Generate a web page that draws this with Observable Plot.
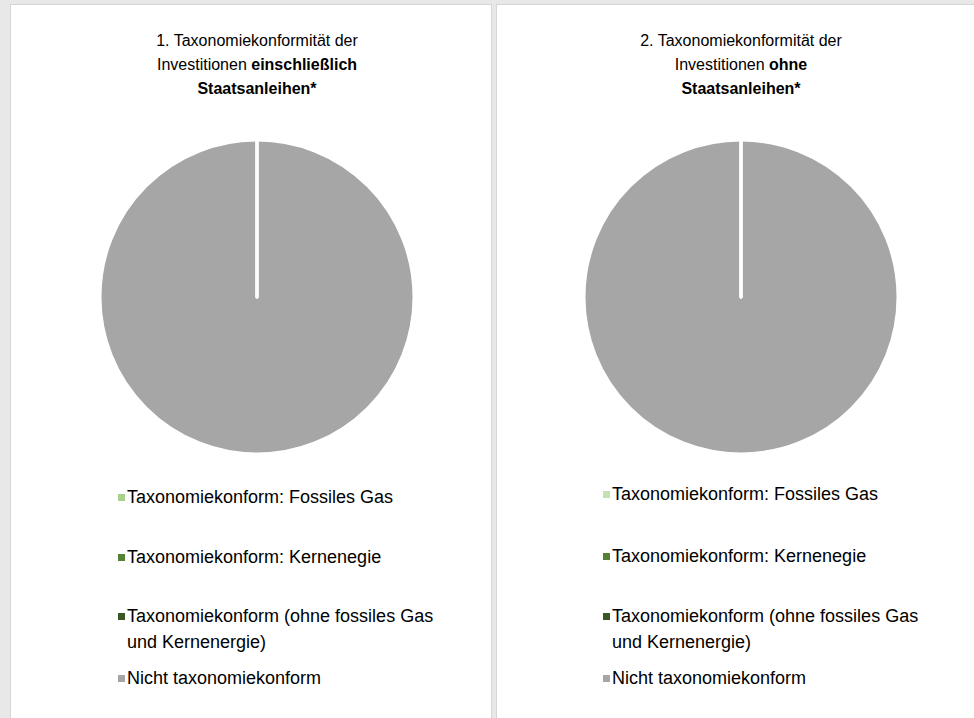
<!DOCTYPE html>
<html>
<head>
<meta charset="utf-8">
<script src="https://cdn.jsdelivr.net/npm/d3@7"></script>
<script src="https://cdn.jsdelivr.net/npm/@observablehq/plot@0.6"></script>
<style>
  html, body { margin: 0; padding: 0; }
  body { width: 974px; height: 718px; overflow: hidden; background: #e8e8e8; position: relative;
         font-family: "Liberation Sans", Arial, sans-serif; color: #000; }
  .panel { position: absolute; background: #fff; border: 1px solid #d6d6d6; box-sizing: border-box; }
  .title { position: absolute; text-align: center; font-size: 16px; line-height: 24px; }
  .chart { position: absolute; }
  .leg { position: absolute; font-size: 18px; line-height: 26px; }
  .sw { position: absolute; width: 7px; height: 7px; }
</style>
</head>
<body>
<script>
// ---- data ----
const categories = [
  "Taxonomiekonform: Fossiles Gas",
  "Taxonomiekonform: Kernenegie",
  "Taxonomiekonform (ohne fossiles Gas und Kernenergie)",
  "Nicht taxonomiekonform"
];
const valuesWithBonds = [0, 0, 0, 100];
const valuesWithoutBonds = [0, 0, 0, 100];
const colorsWithBonds = ["#a9d18e", "#548235", "#385723", "#a6a6a6"];
const colorsWithoutBonds = ["#c5e0b4", "#548235", "#385723", "#a6a6a6"];
const titleWith = ["1. Taxonomiekonformität der", "Investitionen ", "einschließlich", "Staatsanleihen*"];
const titleWithout = ["2. Taxonomiekonformität der", "Investitionen ", "ohne", "Staatsanleihen*"];

// ---- layout ----
const panels = [
  {left: 10, width: 482, values: valuesWithBonds, colors: colorsWithBonds, title: titleWith,
   titleLeft: 11, titleWidth: 492, svgLeft: 11, svgWidth: 480, mLeft: 89,
   swLeft: 118, textLeft: 127, legTops: [484, 544, 603, 665]},
  {left: 496, width: 490, values: valuesWithoutBonds, colors: colorsWithoutBonds, title: titleWithout,
   titleLeft: 497, titleWidth: 488, svgLeft: 497, svgWidth: 477, mLeft: 87,
   swLeft: 603, textLeft: 612, legTops: [481, 543, 603, 665]}
];
const R = 157, svgTop = 132, svgH = 330, mTop = 8;

function pieMark(rows) {
  return (index, scales) => {
    const cx = scales.x(0), cy = scales.y(0);
    const r = Math.abs(scales.x(1) - scales.x(0));
    const arcs = d3.pie().sort(null).value(d => d.value)(rows);
    const arc = d3.arc().innerRadius(0).outerRadius(r);
    const g = d3.create("svg:g").attr("transform", `translate(${cx},${cy})`);
    // draw the largest slice first so the zero-width slice borders stay visible
    arcs.slice().reverse().forEach(a => {
      g.append("path")
        .attr("d", arc(a))
        .attr("fill", scales.color(a.data.category))
        .attr("stroke", "#fff")
        .attr("stroke-width", 3)
        .attr("stroke-linejoin", "round")
        .attr("stroke-linecap", "round");
    });
    return g.node();
  };
}

panels.forEach(p => {
  const panel = document.createElement("div");
  panel.className = "panel";
  Object.assign(panel.style, {left: p.left + "px", top: "4px", width: p.width + "px", height: "730px"});
  document.body.appendChild(panel);

  const t = document.createElement("div");
  t.className = "title";
  Object.assign(t.style, {left: p.titleLeft + "px", top: "29px", width: p.titleWidth + "px"});
  t.innerHTML = `${p.title[0]}<br>${p.title[1]}<b>${p.title[2]}</b><br><b>${p.title[3]}</b>`;
  document.body.appendChild(t);

  const rows = categories.map((c, i) => ({category: c, value: p.values[i]}));
  const chart = Plot.plot({
    width: p.svgWidth,
    height: svgH,
    marginLeft: p.mLeft,
    marginRight: p.svgWidth - p.mLeft - 2 * R,
    marginTop: mTop,
    marginBottom: svgH - mTop - 2 * R,
    x: {domain: [-1, 1], axis: null},
    y: {domain: [-1, 1], axis: null},
    color: {domain: categories, range: p.colors},
    style: {background: "transparent", overflow: "visible"},
    marks: [
      Plot.dot(rows, {x: () => 0, y: () => 0, fill: "category", r: 0}),
      pieMark(rows)
    ]
  });
  const wrap = document.createElement("div");
  wrap.className = "chart";
  Object.assign(wrap.style, {left: p.svgLeft + "px", top: svgTop + "px"});
  wrap.appendChild(chart);
  document.body.appendChild(wrap);

  categories.forEach((c, i) => {
    const top = p.legTops[i];
    const sw = document.createElement("div");
    sw.className = "sw";
    Object.assign(sw.style, {left: p.swLeft + "px", top: (top + 10) + "px", background: p.colors[i]});
    document.body.appendChild(sw);
    const lab = document.createElement("div");
    lab.className = "leg";
    Object.assign(lab.style, {left: p.textLeft + "px", top: top + "px", width: "330px"});
    lab.textContent = c;
    document.body.appendChild(lab);
  });
});
</script>
</body>
</html>
